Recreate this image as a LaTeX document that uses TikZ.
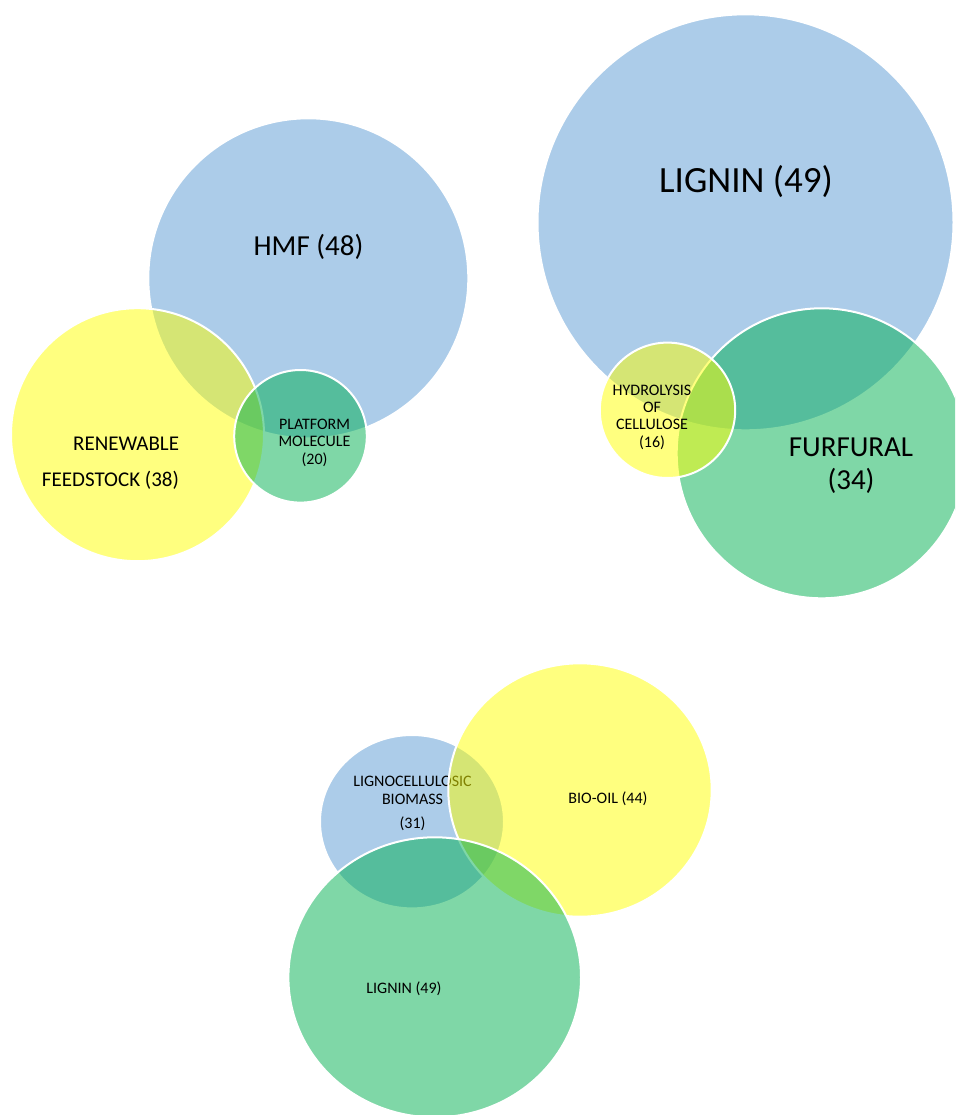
\documentclass[tikz,border=0pt]{standalone}
\usepackage{fontspec}
\usetikzlibrary{shapes.geometric}
\setmainfont{Carlito}
\definecolor{bubBlue}{HTML}{5B9BD5}
\definecolor{bubYellow}{HTML}{FFFF00}
\definecolor{bubGreen}{HTML}{00B050}
\tikzset{
  bubble/.style={circle, draw=white, line width=2pt, fill opacity=0.5,
    draw opacity=1, inner sep=0pt, outer sep=0pt, minimum size=#1},
  oval/.style 2 args={ellipse, draw=white, line width=2pt, fill opacity=0.5,
    draw opacity=1, inner sep=0pt, outer sep=0pt,
    minimum width=#1, minimum height=#2},
  tag/.style={inner sep=0pt, outer sep=0pt, text=black, align=center},
  small/.style={font=\fontsize{16}{17.3}\selectfont},
}
\begin{document}
\begin{tikzpicture}[x=1pt,y=-1pt]
\clip (0,0) rectangle (955,1115);
\fill[white] (0,0) rectangle (955,1115);

% --- HMF group (multi-line labels are placed by their last baseline) ---
\node[bubble=320pt, fill=bubBlue] (hmf) at (308.3,278.3) {};
\node[tag, anchor=base, font=\fontsize{29}{33}\selectfont] (hmfT) at (308.5,255) {HMF (48)};
\node[bubble=253pt, fill=bubYellow] (renew) at (137.5,434.7) {};
\node[tag, align=right, anchor=base east, font=\fontsize{21}{36}\selectfont] (renewT) at (179,486) {RENEWABLE\\FEEDSTOCK (38)};
\node[bubble=132.6pt, fill=bubGreen] (platf) at (300.5,436.3) {};
\node[tag, small, anchor=base] (platfT) at (314.5,464) {PLATFORM\\MOLECULE\\(20)};

% --- Lignin / furfural group ---
\node[bubble=416pt, fill=bubBlue] (lign) at (745.5,222.3) {};
\node[tag, anchor=base, font=\fontsize{37}{40}\selectfont] (lignT) at (746,193) {LIGNIN (49)};
\node[bubble=290pt, fill=bubGreen] (furf) at (821.7,453.3) {};
\node[tag, anchor=base, font=\fontsize{29}{33}\selectfont] (furfT) at (851,489) {FURFURAL\\(34)};
\node[bubble=135.4pt, fill=bubYellow] (hydro) at (667.5,410.3) {};
\node[tag, small, anchor=base] (hydroT) at (652,447) {HYDROLYSIS\\OF\\CELLULOSE\\(16)};

% --- Biomass group (slightly wider than tall) ---
\node[oval={184pt}{173.4pt}, fill=bubBlue] (bmass) at (412,821.7) {};
\node[tag, small, anchor=base] (bmassT) at (412.5,828) {LIGNOCELLULOSIC\\BIOMASS\\[6.7pt](31)};
\node[oval={263.4pt}{253.4pt}, fill=bubYellow] (biooil) at (580,790) {};
\node[tag, small, anchor=base] (biooilT) at (608,803) {BIO-OIL (44)};
\node[oval={292.6pt}{280pt}, fill=bubGreen] (lign2) at (434.7,977.3) {};
\node[tag, small, anchor=base] (lign2T) at (404,993.3) {LIGNIN (49)};
\end{tikzpicture}
\end{document}
